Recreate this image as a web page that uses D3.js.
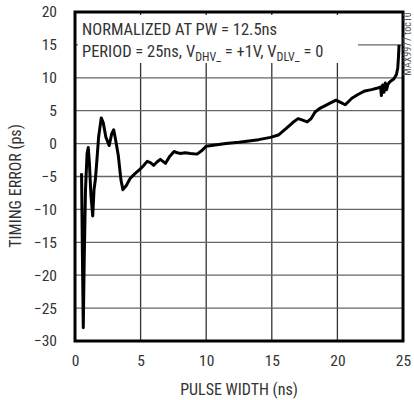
<!DOCTYPE html>
<html>
<head>
<meta charset="utf-8">
<script src="https://cdn.jsdelivr.net/npm/d3@7"></script>
<style>
  body { margin: 0; background: #fff; }
  text { font-family: "Liberation Sans Narrow", "Roboto Condensed", "DejaVu Sans Condensed", sans-serif; fill: #333; }
</style>
</head>
<body>
<div id="chart"></div>
<script>
// Pulse width (ns) and timing error (ps)
const pulseWidth = [
  0.50, 0.56, 0.63, 0.70, 0.80, 0.92, 1.01, 1.10, 1.22, 1.35, 1.45, 1.55, 1.65, 1.80, 2.00,
  2.15, 2.35, 2.60, 2.80, 2.95, 3.10, 3.30, 3.50, 3.65, 3.90, 4.20, 4.55, 4.90, 5.20,
  5.50, 5.75, 6.00, 6.25, 6.50, 6.70, 6.90, 7.20, 7.55, 7.80, 8.05, 8.40, 8.80, 9.30,
  9.70, 10.0, 11.5, 12.5, 14.0, 14.9, 15.5, 16.1, 16.6, 17.0, 17.3, 17.7, 18.0, 18.3,
  18.7, 19.0, 19.4, 19.9, 20.2, 20.6, 21.1, 21.6, 22.1, 22.6, 23.0, 23.3, 23.35, 23.45,
  23.55, 23.65, 23.75, 23.85, 24.0, 24.3, 24.5, 24.6, 24.65, 24.7
];
const timingError = [
  -4.5, -16, -28, -18, -7, -1.5, -0.6, -3, -8, -11, -7, -5.5, -3, 1, 3.9,
  3.2, 1.0, -0.3, 1.5, 2.1, 0.5, -1.8, -5.5, -7.0, -6.4, -5.3, -4.6, -4.0, -3.4,
  -2.7, -2.9, -3.3, -2.8, -2.4, -2.7, -3.0, -2.0, -1.2, -1.4, -1.5, -1.4, -1.5, -1.6,
  -1.0, -0.4, 0.0, 0.2, 0.6, 0.95, 1.3, 2.3, 3.2, 3.8, 3.6, 3.3, 3.8, 4.8,
  5.4, 5.7, 6.1, 6.6, 6.3, 5.9, 6.9, 7.5, 8.0, 8.2, 8.4, 8.6, 7.3, 8.9,
  7.8, 9.2, 8.2, 9.0, 9.4, 9.8, 10.5, 11.5, 13, 15
];
const xTicks = [0, 5, 10, 15, 20, 25];
const yTicks = [20, 15, 10, 5, 0, -5, -10, -15, -20, -25, -30];
const noteLine1 = "NORMALIZED AT PW = 12.5ns";
const xTitle = "PULSE WIDTH (ns)";
const yTitle = "TIMING ERROR (ps)";
const tocLabel = "MAX9977 toc10";

const W = 414, H = 400;
const margin = { top: 12, right: 11, bottom: 59, left: 75 };
const width = W - margin.left - margin.right;
const height = H - margin.top - margin.bottom;

const svg = d3.select("#chart").append("svg")
  .attr("width", W).attr("height", H);

const g = svg.append("g")
  .attr("transform", "translate(" + margin.left + "," + margin.top + ")");

const x = d3.scaleLinear().domain([0, 25]).range([0, width]);
const y = d3.scaleLinear().domain([-30, 20]).range([height, 0]);

// grid
g.selectAll(".vgrid").data(xTicks.slice(1, -1)).enter().append("line")
  .attr("x1", d => x(d)).attr("x2", d => x(d))
  .attr("y1", 0).attr("y2", height)
  .attr("stroke", "#333").attr("stroke-width", 1.3);
g.selectAll(".hgrid").data(yTicks.slice(1, -1)).enter().append("line")
  .attr("x1", 0).attr("x2", width)
  .attr("y1", d => y(d)).attr("y2", d => y(d))
  .attr("stroke", "#666").attr("stroke-width", 1.3);

// white box behind the note
g.append("rect")
  .attr("x", 3).attr("y", 3).attr("width", 280).attr("height", 48)
  .attr("fill", "#fff");

// curve
const pts = pulseWidth.map((d, i) => [d, timingError[i]]);
g.append("path")
  .datum(pts)
  .attr("fill", "none")
  .attr("stroke", "#000")
  .attr("stroke-width", 3)
  .attr("stroke-linejoin", "round")
  .attr("d", d3.line().x(d => x(d[0])).y(d => y(d[1])));

// frame
g.append("rect")
  .attr("x", 0).attr("y", 0).attr("width", width).attr("height", height)
  .attr("fill", "none").attr("stroke", "#000").attr("stroke-width", 3);

// axes
const xAxis = g.append("g")
  .attr("transform", "translate(0," + height + ")")
  .call(d3.axisBottom(x).tickValues(xTicks).tickSize(0).tickPadding(14));
const yAxis = g.append("g")
  .call(d3.axisLeft(y).tickValues(yTicks).tickSize(0).tickPadding(18));
[xAxis, yAxis].forEach(a => {
  a.select(".domain").remove();
  a.selectAll("text").style("font-size", "15.5px").attr("fill", "#333")
    .style("font-family", "\"Liberation Sans Narrow\", \"Roboto Condensed\", sans-serif");
});

// titles
svg.append("text")
  .attr("x", margin.left + width / 2).attr("y", 395)
  .attr("text-anchor", "middle")
  .style("font-size", "16px")
  .text(xTitle);
svg.append("text")
  .attr("transform", "translate(21,186) rotate(-90)")
  .attr("text-anchor", "middle")
  .style("font-size", "16px")
  .text(yTitle);

// note
g.append("text")
  .attr("x", 7).attr("y", 23)
  .style("font-size", "16.5px")
  .text(noteLine1);
const l2 = g.append("text")
  .attr("x", 7).attr("y", 45)
  .style("font-size", "16.5px");
l2.append("tspan").text("PERIOD = 25ns, V");
l2.append("tspan").attr("dy", 4).style("font-size", "12px").text("DHV_");
l2.append("tspan").attr("dy", -4).text(" = +1V, V");
l2.append("tspan").attr("dy", 4).style("font-size", "12px").text("DLV_");
l2.append("tspan").attr("dy", -4).text(" = 0");

// toc label
svg.append("text")
  .attr("transform", "translate(411,44) rotate(-90)")
  .attr("text-anchor", "middle")
  .style("font-size", "10px")
  .style("fill", "#555")
  .text(tocLabel);
</script>
</body>
</html>
